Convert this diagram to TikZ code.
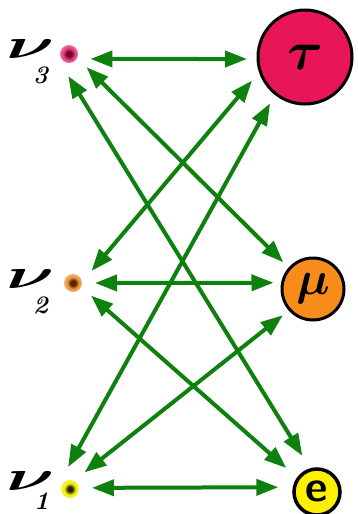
\documentclass[tikz,border=0pt]{standalone}
\usepackage{amsmath,bm}
\usetikzlibrary{arrows.meta}
\definecolor{arrgreen}{RGB}{14,128,14}
\definecolor{taured}{RGB}{232,22,86}
\definecolor{muorange}{RGB}{247,140,26}
\definecolor{eyellow}{RGB}{255,240,0}
\definecolor{pinkdot}{RGB}{226,60,130}
\definecolor{pinkdark}{RGB}{110,0,30}
\definecolor{orangedot}{RGB}{236,150,60}
\definecolor{orangedark}{RGB}{90,30,0}
\definecolor{yellowdot}{RGB}{245,240,20}
\definecolor{yellowdark}{RGB}{40,40,0}
\pgfdeclareradialshading{dotpinkshade}{\pgfpoint{0bp}{0bp}}{color(0bp)=(pinkdark); color(7bp)=(pinkdark); color(16bp)=(pinkdot); color(30bp)=(pinkdot!60); color(50bp)=(white)}
\pgfdeclareradialshading{dotorangeshade}{\pgfpoint{0bp}{0bp}}{color(0bp)=(orangedark); color(7bp)=(orangedark); color(16bp)=(orangedot); color(30bp)=(orangedot!60); color(50bp)=(white)}
\pgfdeclareradialshading{dotyellowshade}{\pgfpoint{0bp}{0bp}}{color(0bp)=(yellowdark); color(7bp)=(yellowdark); color(16bp)=(yellowdot); color(32bp)=(yellowdot!80); color(50bp)=(white)}
\begin{document}
\begin{tikzpicture}[x=1pt,y=-1pt,
  dotn/.style={circle, minimum size=44pt, inner sep=0pt, outer sep=0pt},
  part/.style={circle, draw=black, line width=3pt, inner sep=0pt},
  link/.style={draw=arrgreen, line width=4pt,
    {Triangle[length=22pt,width=16pt]}-{Triangle[length=22pt,width=16pt]}},
  nulab/.style={anchor=base west, inner sep=0pt,
    font=\fontsize{24.88}{30}\selectfont\boldmath},
  sublab/.style={anchor=base west, inner sep=0pt,
    font=\fontsize{12}{14}\selectfont\bfseries\itshape}]
\useasboundingbox (0,0) rectangle (358,514);

% neutrino dots
\node[dotn] (v3) at (69,54) {};
\node[dotn] (v2) at (73,283) {};
\node[dotn] (v1) at (70,489) {};
\shade[shading=dotpinkshade] (v3) circle (9);
\shade[shading=dotorangeshade] (v2) circle (9);
\shade[shading=dotyellowshade] (v1) circle (9);

% labels
\node[nulab] (l3) at (6,58) {\scalebox{3}[1.7]{$\nu$}};
\node[sublab] (s3) at (33,83) {\scalebox{2.1}{3}};
\node[nulab] (l2) at (6,288) {\scalebox{3}[1.7]{$\nu$}};
\node[sublab] (s2) at (33,313) {\scalebox{2.1}{2}};
\node[nulab] (l1) at (6,490) {\scalebox{3}[1.7]{$\nu$}};
\node[sublab] (s1) at (34,509) {\scalebox{2.1}{1}};

% charged leptons
\node[part, fill=taured, minimum size=94pt, outer sep=11pt,
  font=\fontsize{24.88}{30}\selectfont\boldmath] (tau) at (305,57) {\scalebox{2.2}{$\tau$}};
\node[part, fill=muorange, minimum size=62pt, outer sep=9pt,
  font=\fontsize{24.88}{30}\selectfont\boldmath] (mu) at (313,289) {\raisebox{4pt}{\scalebox{1.9}{$\mu$}}};
\node[part, fill=eyellow, minimum size=46pt, outer sep=16pt, line width=3.5pt,
  font=\fontsize{24.88}{30}\selectfont\sffamily\bfseries] (e) at (317,492) {\raisebox{1pt}{\scalebox{1.75}{e}}};

% connectors
\draw[link] (v3.-13) -- (tau.182);
\draw[link] (v3.-37) -- (mu.138);
\draw[link] (v3.-92) -- (e.112);
\draw[link] (v2.33) -- (tau.204);
\draw[link] (v2.0) -- (mu.171);
\draw[link] (v2.-35) -- (e.142);
\draw[link] (v1.95) -- (tau.233);
\draw[link] (v1.49) -- (mu.221);
\draw[link] (v1.3) -- (e.173);
\end{tikzpicture}
\end{document}
